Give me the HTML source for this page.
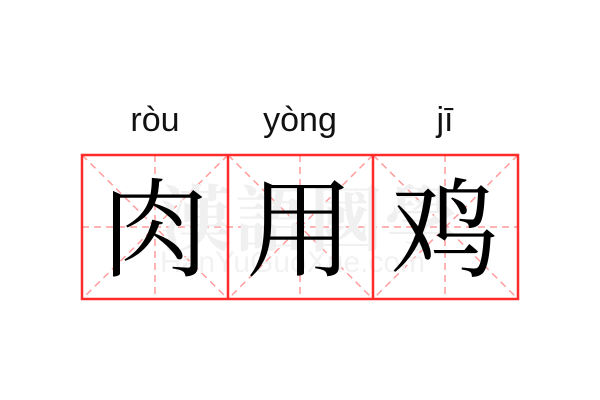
<!DOCTYPE html>
<html><head><meta charset="utf-8"><style>
html,body{margin:0;padding:0;background:#fff;width:600px;height:400px;overflow:hidden}
</style></head><body>
<svg width="600" height="400" xmlns="http://www.w3.org/2000/svg">
<g stroke="#ff9c9c" stroke-width="1.5" stroke-dasharray="7,5" fill="none">
<line x1="82" y1="227" x2="518" y2="227"/>
<line x1="155" y1="155" x2="155" y2="299"/>
<line x1="300" y1="155" x2="300" y2="299"/>
<line x1="445" y1="155" x2="445" y2="299"/>
<line x1="82" y1="155" x2="228" y2="299"/><line x1="228" y1="155" x2="82" y2="299"/>
<line x1="228" y1="155" x2="373" y2="299"/><line x1="373" y1="155" x2="228" y2="299"/>
<line x1="373" y1="155" x2="518" y2="299"/><line x1="518" y1="155" x2="373" y2="299"/>
</g>
<g font-family="Noto Serif CJK SC, serif" font-size="72" fill="#f0f0f0" font-weight="bold">
<text x="160" y="245">漢</text><text x="235" y="245">語</text><text x="310" y="245">國</text><text x="385" y="245">學</text>
</g>
<text x="160" y="272" font-family="Liberation Sans, sans-serif" font-size="30" fill="#f2f2f2">HanYuGuoXue.com</text>
<g fill="none" stroke="#ff2a2a" stroke-width="2.5">
<rect x="82" y="155" width="436" height="144"/>
<line x1="228" y1="155" x2="228" y2="299"/>
<line x1="373" y1="155" x2="373" y2="299"/>
</g>
<g font-family="Liberation Sans, sans-serif" font-size="34" fill="#111" text-anchor="middle">
<text x="155" y="131">ròu</text><text x="300" y="131">yòng</text><text x="445" y="131">jī</text>
</g>
<g font-family="Noto Serif CJK SC, serif" font-size="108" fill="#000" text-anchor="middle">
<text x="155" y="268">肉</text><text x="300" y="268">用</text><text x="445" y="268">鸡</text>
</g>
</svg>
</body></html>
